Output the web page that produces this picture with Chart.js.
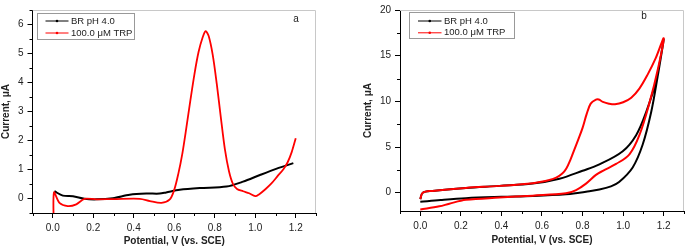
<!DOCTYPE html>
<html>
<head>
<meta charset="utf-8">
<script src="https://cdn.jsdelivr.net/npm/chart.js@4.4.1/dist/chart.umd.min.js"></script>
<style>
  html, body { margin: 0; padding: 0; background: #fff; }
  #wrap { position: relative; width: 685px; height: 249px; }
  #wrap canvas { position: absolute; top: 0; }
</style>
</head>
<body>
<div id="wrap">
  <canvas id="dpv" width="340" height="249" style="left:0"></canvas>
  <canvas id="cv" width="340" height="249" style="left:345px"></canvas>
</div>
<script>
// shared labels
const seriesLabels = ["BR pH 4.0", "100.0 \u03bcM TRP"];
const xTicks = [0, 0.2, 0.4, 0.6, 0.8, 1.0, 1.2];
const xMinor = [-0.1, 0.1, 0.3, 0.5, 0.7, 0.9, 1.1, 1.3];

// panel a - differential pulse
const aBlankX = [0.008, 0.05, 0.1, 0.157, 0.215, 0.297, 0.38, 0.462, 0.528, 0.56, 0.627, 0.726, 0.858, 0.94, 1.023, 1.106, 1.188];
const aBlankY = [0.25, 0.1, 0.08, -0.01, -0.03, 0.01, 0.13, 0.17, 0.17, 0.21, 0.3, 0.36, 0.41, 0.58, 0.81, 1.03, 1.22];
const aTrpX = [0.005, 0.006, 0.033, 0.074, 0.116, 0.157, 0.215, 0.3, 0.43, 0.48, 0.537, 0.578, 0.6, 0.62, 0.64, 0.66, 0.68, 0.7, 0.72, 0.74, 0.755, 0.77, 0.79, 0.81, 0.83, 0.85, 0.87, 0.89, 0.91, 0.94, 0.97, 1.0, 1.02, 1.05, 1.08, 1.11, 1.14, 1.16, 1.18, 1.2];
const aTrpY = [-1, 0.21, -0.15, -0.26, -0.2, -0.01, -0.03, -0.02, -0.01, -0.09, -0.15, -0.03, 0.3, 0.85, 1.55, 2.45, 3.4, 4.3, 5.05, 5.55, 5.77, 5.6, 4.95, 3.95, 2.8, 1.7, 0.95, 0.5, 0.33, 0.25, 0.18, 0.08, 0.15, 0.32, 0.52, 0.77, 1.02, 1.25, 1.6, 2.08];
const aYTicks = [0, 1, 2, 3, 4, 5, 6];
const aYMinor = [-0.5, 0.5, 1.5, 2.5, 3.5, 4.5, 5.5, 6.5];

// panel b - cyclic voltammetry (forward scan then reverse)
const bBlankX = [0, 0.1, 0.225, 0.4, 0.554, 0.718, 0.784, 0.817, 0.883, 0.94, 0.98, 1.047, 1.096, 1.138, 1.17, 1.2,
                 1.163, 1.113, 1.064, 0.998, 0.883, 0.8, 0.686, 0.554, 0.39, 0.225, 0.06, 0.012, 0.0];
const bBlankY = [-1.0, -0.8, -0.6, -0.45, -0.35, -0.17, 0.0, 0.1, 0.35, 0.7, 1.17, 2.77, 5.25, 8.8, 12.7, 16.8,
                 12.3, 8.8, 6.3, 4.54, 3.1, 2.4, 1.53, 1.0, 0.75, 0.53, 0.2, 0.0, -0.7];
const bTrpX = [0, 0.094, 0.143, 0.225, 0.39, 0.554, 0.718, 0.768, 0.817, 0.866, 0.9, 0.965, 1.031, 1.08, 1.13, 1.17, 1.2,
               1.16, 1.12, 1.08, 1.04, 1.0, 0.96, 0.93, 0.9, 0.88, 0.866, 0.84, 0.82, 0.8, 0.78, 0.76, 0.74, 0.72, 0.7, 0.67, 0.636, 0.554, 0.39, 0.225, 0.06, 0.012, 0.0];
const bTrpY = [-1.84, -1.49, -1.2, -0.78, -0.53, -0.32, -0.07, 0.29, 1.0, 1.95, 2.4, 3.15, 4.2, 6.3, 9.86, 13.4, 16.9,
               14.7, 12.9, 11.4, 10.4, 9.9, 9.68, 9.75, 9.95, 10.2, 10.2, 9.75, 8.6, 7.1, 5.9, 4.75, 3.6, 2.65, 2.1, 1.65, 1.4, 1.05, 0.75, 0.53, 0.2, 0.0, -0.7];
const bYTicks = [0, 5, 10, 15, 20];
const bYMinor = [2.5, 7.5, 12.5, 17.5];

const pts = (xs, ys) => xs.map((x, i) => ({ x: x, y: ys[i] }));

// frame, minor ticks, legend box and panel letter
const decor = {
  id: 'decor',
  afterDraw(chart, args, o) {
    const ctx = chart.ctx, a = chart.chartArea;
    const xs = chart.scales.x, ys = chart.scales.y;
    ctx.save();
    ctx.strokeStyle = '#c8c8c8';
    ctx.lineWidth = 1;
    ctx.beginPath();
    ctx.moveTo(a.left, a.top + 0.5); ctx.lineTo(a.right - 0.5, a.top + 0.5); ctx.lineTo(a.right - 0.5, a.bottom);
    ctx.stroke();

    ctx.strokeStyle = '#000';
    ctx.beginPath();
    o.xMinor.forEach(v => {
      const px = Math.round(xs.getPixelForValue(v)) + 0.5;
      ctx.moveTo(px, a.bottom); ctx.lineTo(px, a.bottom + 3);
    });
    o.yMinor.forEach(v => {
      const py = Math.round(ys.getPixelForValue(v)) + 0.5;
      ctx.moveTo(a.left, py); ctx.lineTo(a.left - 3, py);
    });
    ctx.stroke();

    // legend
    const L = o.legend;
    ctx.strokeStyle = '#999';
    ctx.strokeRect(L.x + 0.5, L.y + 0.5, L.w, L.h);
    ctx.font = '9.5px "Liberation Sans", Arial, sans-serif';
    ctx.textBaseline = 'middle';
    chart.data.datasets.forEach((ds, i) => {
      const cy = L.y + L.row0 + i * L.gap;
      ctx.strokeStyle = ds.borderColor;
      ctx.lineWidth = 1;
      ctx.beginPath();
      ctx.moveTo(L.x + L.s0, cy + 0.5); ctx.lineTo(L.x + L.s1, cy + 0.5);
      ctx.stroke();
      ctx.fillStyle = ds.borderColor;
      ctx.beginPath();
      ctx.arc(L.x + (L.s0 + L.s1) / 2, cy + 0.5, 1.3, 0, Math.PI * 2);
      ctx.fill();
      ctx.fillStyle = '#222';
      ctx.fillText(ds.label, L.x + L.s1 + 2.5, cy + 0.5);
    });

    ctx.font = '10px "Liberation Sans", Arial, sans-serif';
    ctx.fillStyle = '#222';
    ctx.textAlign = 'center';
    ctx.fillText(o.letter, o.lx, o.ly);
    ctx.restore();
  }
};

function makeChart(id, sets, cfg) {
  const tickFont = { family: '"Liberation Sans", Arial, sans-serif', size: 10 };
  const titleFont = { family: '"Liberation Sans", Arial, sans-serif', size: 10, weight: 'bold' };
  return new Chart(document.getElementById(id), {
    type: 'scatter',
    data: {
      datasets: [
        { label: seriesLabels[0], data: sets[0], borderColor: '#000', borderWidth: cfg.bw[0], order: 2 },
        { label: seriesLabels[1], data: sets[1], borderColor: '#ff0000', borderWidth: cfg.bw[1], order: 1 }
      ]
    },
    options: {
      responsive: false,
      devicePixelRatio: 1,
      animation: false,
      showLine: true,
      elements: { point: { radius: 0 }, line: { tension: cfg.tension } },
      layout: { padding: cfg.pad },
      plugins: { legend: { display: false }, tooltip: { enabled: false }, decor: cfg.decor },
      scales: {
        x: {
          type: 'linear', min: -0.1, max: 1.3,
          afterBuildTicks: s => { s.ticks = xTicks.map(v => ({ value: v })); },
          afterFit: s => { s.height = cfg.xh; },
          ticks: { font: tickFont, color: '#222', padding: 4, maxRotation: 0, callback: v => v.toFixed(1) },
          grid: { drawOnChartArea: false, tickLength: 5, color: '#000' },
          border: { color: '#000', width: 1 },
          title: { display: true, text: 'Potential, V (vs. SCE)', font: titleFont, color: '#222', padding: { top: 0, bottom: cfg.xtp } }
        },
        y: {
          type: 'linear', min: cfg.ymin, max: cfg.ymax,
          afterBuildTicks: s => { s.ticks = cfg.yTicks.map(v => ({ value: v })); },
          afterFit: s => { s.width = cfg.yw; },
          ticks: { font: tickFont, color: '#222', padding: 4 },
          grid: { drawOnChartArea: false, tickLength: 5, color: '#000' },
          border: { color: '#000', width: 1 },
          title: { display: true, text: 'Current, \u03bcA', font: titleFont, color: '#222', padding: { top: cfg.ytp, bottom: 0 } }
        }
      }
    },
    plugins: [decor]
  });
}

makeChart('dpv', [pts(aBlankX, aBlankY), pts(aTrpX, aTrpY)], {
  bw: [2, 1.8], tension: 0.3,
  pad: { left: 0, right: 24, top: 6, bottom: 0 },
  xh: 36, yw: 32.5, xtp: 2, ytp: 0,
  ymin: -0.5, ymax: 6.5, yTicks: aYTicks,
  decor: {
    xMinor: xMinor, yMinor: aYMinor,
    legend: { x: 37, y: 13, w: 97, h: 26, row0: 7.5, gap: 12, s0: 8.5, s1: 31.5 },
    letter: 'a', lx: 296, ly: 19
  }
});

makeChart('cv', [pts(bBlankX, bBlankY), pts(bTrpX, bTrpY)], {
  bw: [2, 2], tension: 0.35,
  pad: { left: 0, right: 1, top: 5, bottom: 0 },
  xh: 38, yw: 55, xtp: 2.5, ytp: 17,
  ymin: -2, ymax: 20, yTicks: bYTicks,
  decor: {
    xMinor: xMinor, yMinor: bYMinor,
    legend: { x: 64, y: 12, w: 105, h: 26, row0: 8.5, gap: 11.8, s0: 9, s1: 32.5 },
    letter: 'b', lx: 299, ly: 16
  }
});
</script>
</body>
</html>
